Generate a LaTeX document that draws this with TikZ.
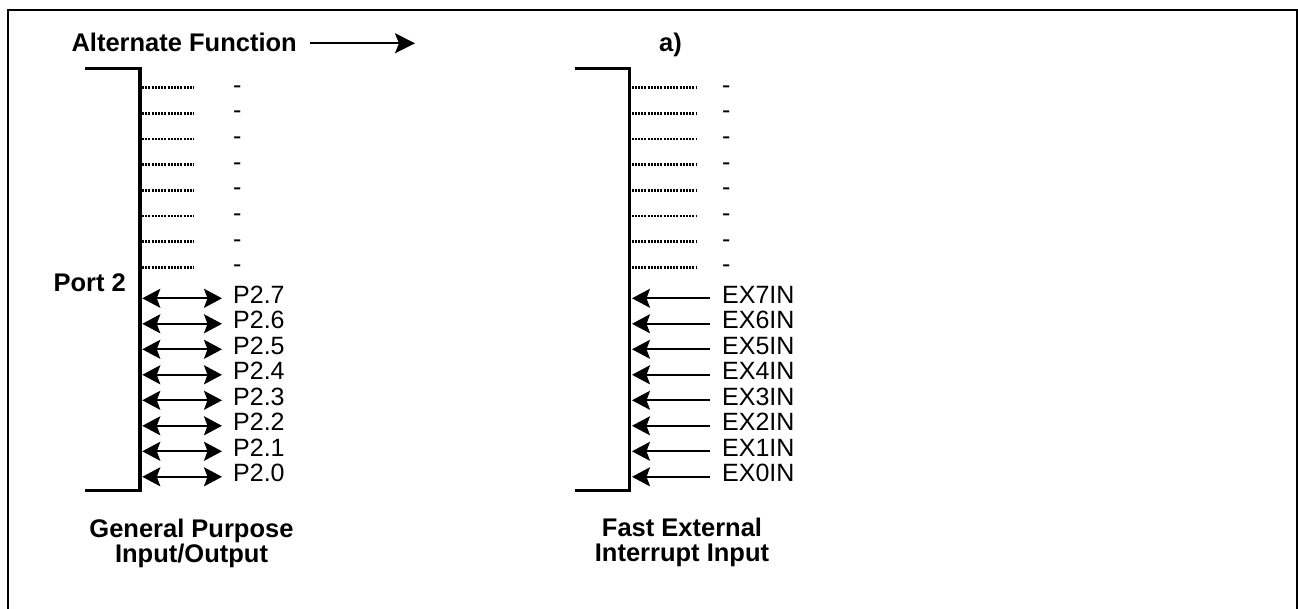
\documentclass[tikz,border=0pt]{standalone}
\usepackage{fontspec}
\setmainfont{Liberation Sans}
\usetikzlibrary{arrows.meta}
\tikzset{
  lbl/.style={anchor=base west, inner sep=0pt, font=\fontsize{25}{30}\selectfont},
  bold/.style={inner sep=0pt, font=\fontsize{25.5}{30}\selectfont\bfseries},
  bracket/.style={line width=3.5pt, line join=miter},
  dots/.style={line width=2.5pt, dash pattern=on 2pt off 1.2pt},
  biarrow/.style={line width=2pt, {Stealth[length=18pt,width=19pt,inset=3.5pt]}-{Stealth[length=18pt,width=19pt,inset=3.5pt]}},
  inarrow/.style={line width=2pt, -{Stealth[length=18pt,width=19pt,inset=3.5pt]}},
  titlearrow/.style={line width=2pt, -{Stealth[length=20pt,width=20pt,inset=4pt]}},
  frame/.style={line width=2pt},
}
\begin{document}
\begin{tikzpicture}[x=1pt,y=-1pt]
\useasboundingbox (0,0) rectangle (1298,609);
% outer frame
\draw[frame] (8.3,609) -- (8.3,10.3) -- (1296.7,10.3) -- (1296.7,609);

% title
\node[bold, anchor=base east] (alt) at (297,52) {Alternate Function};
\coordinate (altS) at (310,43.3);
\coordinate (altE) at (415,43.3);
\draw[titlearrow] (altS) -- (altE);
\node[bold, anchor=base] (amark) at (670.5,52) {a)};

% left bracket
\coordinate (LT) at (85,68.7);
\coordinate (LTR) at (140,68.7);
\coordinate (LBR) at (140,490.5);
\coordinate (LB) at (85,490.5);
\draw[bracket] (LT) -- (LTR) -- (LBR) -- (LB);

% right bracket
\coordinate (RT) at (575,68.7);
\coordinate (RTR) at (629.7,68.7);
\coordinate (RBR) at (629.7,490.5);
\coordinate (RB) at (575,490.5);
\draw[bracket] (RT) -- (RTR) -- (RBR) -- (RB);

% unused rows
\foreach \i in {0,...,7} {
  \pgfmathsetmacro\yy{87.7+25.66*\i}
  \coordinate (ld\i a) at (142,\yy);
  \coordinate (ld\i b) at (194,\yy);
  \draw[dots] (ld\i a) -- (ld\i b);
  \node[lbl] (ldash\i) at (233,\yy+5.5) {-};
  \coordinate (rd\i a) at (631.5,\yy);
  \coordinate (rd\i b) at (697,\yy);
  \draw[dots] (rd\i a) -- (rd\i b);
  \node[lbl] (rdash\i) at (722,\yy+5.5) {-};
}

% pin rows
\foreach \n [count=\i from 0] in {7,6,5,4,3,2,1,0} {
  \pgfmathsetmacro\yy{298.3+25.5*\i}
  \coordinate (la\n) at (142.3,\yy);
  \coordinate (lb\n) at (222,\yy);
  \draw[biarrow] (la\n) -- (lb\n);
  \node[lbl] (P\n) at (233,\yy+5) {P2.\n};
  \coordinate (ra\n) at (710,\yy);
  \coordinate (rb\n) at (632,\yy);
  \draw[inarrow] (ra\n) -- (rb\n);
  \node[lbl] (EX\n) at (722,\yy+5) {EX\n IN};
}

\node[bold, anchor=base east] (port) at (126,292) {Port 2};

% captions
\node[bold, anchor=base] (gp1) at (191.5,537) {General Purpose};
\node[bold, anchor=base] (gp2) at (191.5,562) {Input/Output};
\node[bold, anchor=base] (fe1) at (682,536) {Fast External};
\node[bold, anchor=base] (fe2) at (682,561) {Interrupt Input};
\end{tikzpicture}
\end{document}
